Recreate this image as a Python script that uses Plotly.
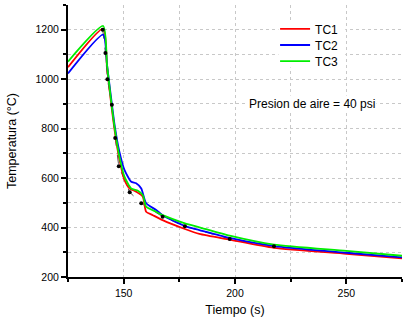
import plotly.graph_objects as go

# ---- data ----
t_tc1 = [125, 140.8, 142.5, 144, 146, 148, 150.4, 152.7, 155.6, 158.6, 160.1, 163.1, 167.5, 177.5, 184, 197.6, 217.5, 250, 275]
tc1 = [1048, 1204, 1050, 930, 790, 680, 592, 558, 545, 525, 464, 450, 430, 394, 374, 351, 318, 294, 275]

t_tc2 = [125, 140.8, 142.5, 144, 146, 148, 150.4, 153.4, 155.6, 157.9, 160.1, 164.6, 167.5, 177.5, 184, 197.6, 217.5, 250, 275]
tc2 = [1023, 1180, 1060, 950, 810, 710, 632, 585, 579, 558, 498, 471, 450, 406, 390, 358, 325, 298, 279]

t_tc3 = [125, 140.8, 142.5, 144, 146, 148, 150.4, 153.4, 156.4, 158.6, 160.1, 164.6, 167.5, 177.5, 184, 197.6, 217.5, 250, 275]
tc3 = [1071, 1215, 1060, 940, 800, 690, 605, 558, 549, 531, 484, 464, 450, 417, 401, 367, 331, 306, 286]

t_pts = [140.6, 141.8, 142.7, 144.7, 146.2, 147.8, 152.7, 157.9, 167.5, 177.5, 197.6, 217.5]
pts = [1200, 1106, 1000, 897, 762, 648, 543, 498, 444, 405, 354, 324]

series_names = ["TC1", "TC2", "TC3"]
series_colors = ["#ff0000", "#0000ff", "#00ee00"]

FONT = "Liberation Sans, Arial, sans-serif"

fig = go.Figure()

# dashed connecting line for measured points (behind)
fig.add_trace(go.Scatter(x=t_pts, y=pts, mode="lines",
                         line=dict(color="#555555", width=1, dash="dash"),
                         showlegend=False, hoverinfo="skip"))

legend_ids = ["legend", "legend2", "legend3"]
for name, tx, ty, col, lg in zip(series_names, [t_tc1, t_tc2, t_tc3], [tc1, tc2, tc3], series_colors, legend_ids):
    fig.add_trace(go.Scatter(x=tx, y=ty, mode="lines", name=name, legend=lg,
                             line=dict(color=col, width=1.8, shape="spline", smoothing=0.6)))

fig.add_trace(go.Scatter(x=t_pts, y=pts, mode="markers",
                         marker=dict(color="black", size=4),
                         showlegend=False))

fig.add_annotation(x=0.73, y=0.636, xref="paper", yref="paper", xanchor="center", yanchor="middle",
                   text="Presion de aire = 40 psi", showarrow=False,
                   font=dict(size=12, color="black", family=FONT),
                   bgcolor="white")

# white patch behind the legend block (interrupts grid like the original)
fig.add_shape(type="rect", xref="paper", yref="paper", x0=0.63, x1=0.83, y0=0.77, y1=0.945,
              fillcolor="white", line=dict(width=0), layer="above")

axis_common = dict(showline=True, linecolor="black", linewidth=2, mirror=False,
                   ticks="outside", ticklen=5, tickwidth=1.5, tickcolor="black",
                   showgrid=True, gridcolor="#c8c8c8", gridwidth=1, griddash="dot",
                   zeroline=False, tickfont=dict(size=10.5, color="black", family=FONT))

fig.update_xaxes(range=[125, 275], dtick=50, tick0=150,
                 title=dict(text="Tiempo (s)", font=dict(size=12.5, color="black", family=FONT), standoff=8),
                 minor=dict(dtick=25, tick0=125, showgrid=True, gridcolor="#c8c8c8", griddash="dot",
                            ticks="outside", ticklen=3, tickcolor="black"),
                 **axis_common)
fig.update_yaxes(range=[200, 1300], dtick=200, tick0=200,
                 title=dict(text="Temperatura (°C)", font=dict(size=12.5, color="black", family=FONT), standoff=16),
                 minor=dict(dtick=100, tick0=200, showgrid=True, gridcolor="#c8c8c8", griddash="dot",
                            ticks="outside", ticklen=3, tickcolor="black"),
                 **axis_common)

legend_style = dict(xanchor="left", yanchor="middle", bgcolor="rgba(0,0,0,0)", borderwidth=0,
                    font=dict(size=12, color="black", family=FONT), itemwidth=30)
fig.update_layout(width=407, height=323,
                  margin=dict(l=68, r=5, t=5, b=46, autoexpand=False),
                  plot_bgcolor="white", paper_bgcolor="white",
                  font=dict(family=FONT, color="black"),
                  legend=dict(x=0.62, y=0.912, **legend_style),
                  legend2=dict(x=0.62, y=0.853, **legend_style),
                  legend3=dict(x=0.62, y=0.794, **legend_style),
                  showlegend=True)

fig.write_html("out.html", config={"displayModeBar": False},
               post_script="document.body.style.margin='0';")
